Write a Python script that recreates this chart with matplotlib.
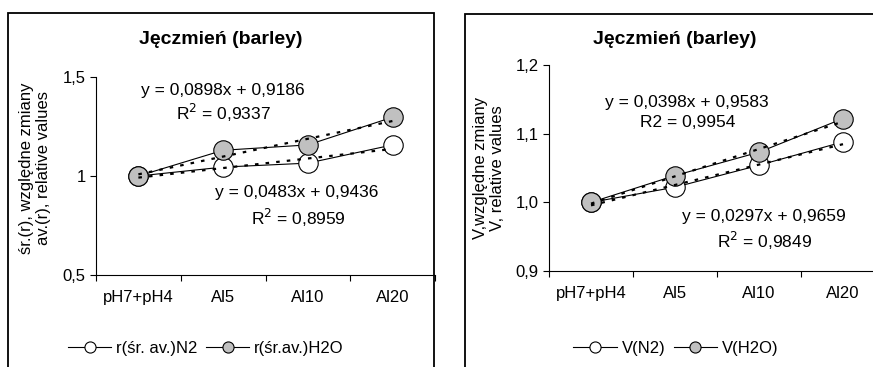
import numpy as np
import matplotlib.pyplot as plt
from matplotlib.lines import Line2D
from matplotlib.patches import Rectangle

plt.rcParams['font.family'] = ['Liberation Sans', 'DejaVu Sans']

# data
categories = ['pH7+pH4', 'Al5', 'Al10', 'Al20']
r_n2 = [1.0, 1.045, 1.065, 1.157]
r_h2o = [1.0, 1.13, 1.157, 1.297]
v_n2 = [1.0, 1.022, 1.054, 1.088]
v_h2o = [1.0, 1.039, 1.073, 1.122]
# trend lines as printed on the chart (slope, intercept)
r_h2o_fit = (0.0898, 0.9186)
r_n2_fit = (0.0483, 0.9436)
v_h2o_fit = (0.0398, 0.9583)
v_n2_fit = (0.0297, 0.9659)

W, H = 873, 367
fig = plt.figure(figsize=(W / 100, H / 100), dpi=100)


def fx(px):
    return px / W


def fy(py):
    return 1 - py / H


# outer frames of the two charts
fig.add_artist(Rectangle((fx(8), fy(380)), fx(434 - 8), fy(13) - fy(380),
                         transform=fig.transFigure, fill=False, lw=1.3, ec='black'))
fig.add_artist(Rectangle((fx(465), fy(380)), fx(900 - 465), fy(14) - fy(380),
                         transform=fig.transFigure, fill=False, lw=1.3, ec='black'))

ax1 = fig.add_axes([fx(96), fy(275), fx(435 - 96), fy(77) - fy(275)])
ax2 = fig.add_axes([fx(549), fy(271), fx(885 - 549), fy(65) - fy(271)])

x = np.arange(len(categories))


def draw(ax, n2, h2o, fit_n2, fit_h2o):
    ax.plot(x, n2, '-', color='black', lw=0.8, marker='o', ms=14,
            mfc='white', mec='black', mew=0.8, zorder=3)
    ax.plot(x, h2o, '-', color='black', lw=0.8, marker='o', ms=14,
            mfc='#c0c0c0', mec='black', mew=0.8, zorder=3)
    for k, b in (fit_n2, fit_h2o):
        ax.plot(x, k * (x + 1) + b, color='black', lw=1.6,
                dashes=(1.6, 3.2), zorder=4)
    ax.set_xlim(-0.5, 3.5)
    ax.set_xticks(x)
    ax.set_xticklabels(categories, fontsize=12)
    ax.set_xticks(np.arange(-0.5, 4, 1), minor=True)
    ax.tick_params(axis='x', which='major', length=0, pad=11)
    ax.tick_params(axis='x', which='minor', length=4, direction='out', width=0.8)
    ax.tick_params(axis='y', length=4, direction='out', width=0.8, labelsize=12)
    ax.spines['top'].set_visible(False)
    ax.spines['right'].set_visible(False)
    ax.spines['left'].set_linewidth(0.8)
    ax.spines['bottom'].set_linewidth(0.8)
    ax.patch.set_alpha(0)


draw(ax1, r_n2, r_h2o, r_n2_fit, r_h2o_fit)
ax1.set_ylim(0.5, 1.5)
ax1.set_yticks([0.5, 1.0, 1.5])
ax1.set_yticklabels(['0,5', '1', '1,5'])

draw(ax2, v_n2, v_h2o, v_n2_fit, v_h2o_fit)
ax2.set_ylim(0.9, 1.2)
ax2.set_yticks([0.9, 1.0, 1.1, 1.2])
ax2.set_yticklabels(['0,9', '1,0', '1,1', '1,2'])
for a in ax2.get_children():
    a.set_clip_on(False)

# titles
fig.text(fx(221), fy(40), 'Jęczmień (barley)', fontsize=14, fontweight='bold',
         ha='center', va='center')
fig.text(fx(675), fy(40), 'Jęczmień (barley)', fontsize=14, fontweight='bold',
         ha='center', va='center')

# y labels
fig.text(fx(35), fy(168), 'śr.(r), względne zmiany\nav.(r), relative values',
         fontsize=12, rotation=90, ha='center', va='center', linespacing=1.15)
fig.text(fx(489), fy(168), 'V,względne zmiany\nV, relative values',
         fontsize=12, rotation=90, ha='center', va='center', linespacing=1.15)

# equations
eq = dict(fontsize=12.5, ha='center', va='center')
fig.text(fx(223), fy(90), 'y = 0,0898x + 0,9186', **eq)
fig.text(fx(223), fy(113), 'R$^2$ = 0,9337', **eq)
fig.text(fx(297), fy(193), 'y = 0,0483x + 0,9436', **eq)
fig.text(fx(298), fy(218), 'R$^2$ = 0,8959', **eq)
fig.text(fx(687), fy(103), 'y = 0,0398x + 0,9583', **eq)
fig.text(fx(688), fy(123), 'R2 = 0,9954', **eq)
fig.text(fx(764), fy(217), 'y = 0,0297x + 0,9659', **eq)
fig.text(fx(765), fy(241), 'R$^2$ = 0,9849', **eq)

# legends
h_n2 = Line2D([], [], color='black', lw=0.8, marker='o', ms=8,
              mfc='white', mec='black', mew=0.8)
h_h2o = Line2D([], [], color='black', lw=0.8, marker='o', ms=8,
               mfc='#c0c0c0', mec='black', mew=0.8)
leg_kw = dict(loc='center', frameon=False, ncol=2, fontsize=12,
              handlelength=2.6, handletextpad=0.3, columnspacing=0.5)
fig.legend([h_n2, h_h2o], ['r(śr. av.)N2', 'r(śr.av.)H2O'],
           bbox_to_anchor=(fx(206), fy(348)), **leg_kw)
fig.legend([h_n2, h_h2o], ['V(N2)', 'V(H2O)'],
           bbox_to_anchor=(fx(676), fy(348)), **leg_kw)

fig.savefig('out.png', dpi=100)
